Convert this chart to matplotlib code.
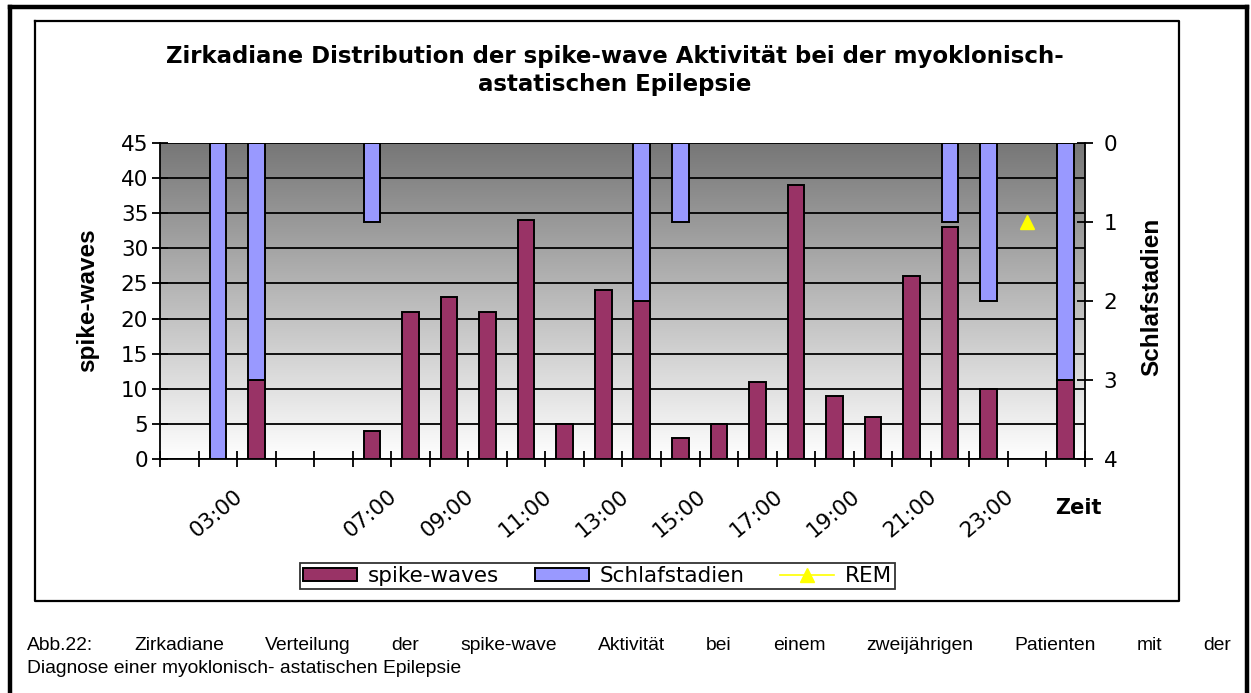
import numpy as np
import matplotlib
matplotlib.use("Agg")
import matplotlib.pyplot as plt
from matplotlib.colors import LinearSegmentedColormap
from matplotlib.lines import Line2D
from matplotlib.patches import Patch
import matplotlib.transforms as mtransforms

plt.rcParams['font.family'] = ['DejaVu Sans']

# ---------------- data ----------------
hours = ["01:00", "02:00", "03:00", "04:00", "05:00", "06:00", "07:00", "08:00",
         "09:00", "10:00", "11:00", "12:00", "13:00", "14:00", "15:00", "16:00",
         "17:00", "18:00", "19:00", "20:00", "21:00", "22:00", "23:00", "00:00"]
tick_labels = ["", "", "03:00", "", "", "", "07:00", "", "09:00", "", "11:00", "",
               "13:00", "", "15:00", "", "17:00", "", "19:00", "", "21:00", "",
               "23:00", ""]
spike_waves = [np.nan, np.nan, 11.3, np.nan, np.nan, 4, 21, 23, 21, 34, 5, 24,
               22.5, 3, 5, 11, 39, 9, 6, 26, 33, 10, np.nan, 11.3]
schlafstadien = [np.nan, 4, 3, np.nan, np.nan, 1, np.nan, np.nan, np.nan, np.nan,
                 np.nan, np.nan, 2, 1, np.nan, np.nan, np.nan, np.nan, np.nan,
                 np.nan, 1, 2, np.nan, 3]
rem = [np.nan] * 22 + [1, np.nan]

title = "Zirkadiane Distribution der spike-wave Aktivität bei der myoklonisch-\nastatischen Epilepsie"
caption1 = "Abb.22:  Zirkadiane Verteilung der spike-wave Aktivität bei einem zweijährigen Patienten mit der"
caption2 = "Diagnose einer myoklonisch- astatischen Epilepsie"

# ---------------- figure ----------------
W, H = 1251, 693
fig = plt.figure(figsize=(W / 100, H / 100), dpi=100)

def fx(px):
    return px / W

def fy(py):
    return 1 - py / H

TICK_FS = 15.5
L, R, T, B = 160, 1085, 143, 459
ax = fig.add_axes([fx(L), fy(B), fx(R) - fx(L), fy(T) - fy(B)])

# gradient background
cmap = LinearSegmentedColormap.from_list("g", ["#ffffff", "#777777"])
grad = np.linspace(0, 1, 256).reshape(-1, 1)
ax.imshow(grad, cmap=cmap, aspect="auto", extent=(0, 1, 0, 1),
          transform=ax.transAxes, origin="lower", zorder=0)

x = np.arange(len(hours))
bw = 0.43
ax.bar(x, spike_waves, width=bw, color="#993366", edgecolor="black",
       linewidth=1.4, zorder=3)
ax.set_xlim(-0.5, len(hours) - 0.5)
ax.set_ylim(0, 45)
ax.set_yticks(np.arange(0, 46, 5))
ax.yaxis.grid(True, color="black", linewidth=1.3, zorder=1)
ax.set_axisbelow(True)
ax.tick_params(axis="y", direction="inout", length=11, width=1.3,
               labelsize=TICK_FS, pad=3)

# x ticks at category boundaries, labels at centers
ax.set_xticks(np.arange(-0.5, len(hours), 1.0))
ax.set_xticklabels([])
ax.tick_params(axis="x", which="major", direction="inout", length=11, width=1.3)
ax.set_xticks(x, minor=True)
ax.set_xticklabels(tick_labels, minor=True)
ax.tick_params(axis="x", which="minor", length=0, labelsize=TICK_FS, pad=0)
offset = mtransforms.ScaledTranslation(-0.16, -0.35, fig.dpi_scale_trans)
for lab in ax.get_xticklabels(minor=True):
    lab.set_rotation(40)
    lab.set_rotation_mode("anchor")
    lab.set_ha("right")
    lab.set_va("center")
    lab.set_transform(lab.get_transform() + offset)

for s in ["top", "right"]:
    ax.spines[s].set_visible(False)
ax.spines["left"].set_linewidth(1.3)
ax.spines["bottom"].set_linewidth(1.3)

ax2 = ax.twinx()
ax2.bar(x, schlafstadien, width=bw, color="#9999ff", edgecolor="black",
        linewidth=1.4, zorder=3)
ax2.plot(x, rem, color="#ffff00", marker="^", markersize=10, linewidth=1.2,
         zorder=4)
ax2.set_ylim(4, 0)
ax2.set_yticks([0, 1, 2, 3, 4])
ax2.tick_params(axis="y", direction="inout", length=11, width=1.3,
                labelsize=TICK_FS, pad=8)
for s in ["top", "left", "bottom"]:
    ax2.spines[s].set_visible(False)
ax2.spines["right"].set_linewidth(1.3)
ax2.set_xlim(-0.5, len(hours) - 0.5)

# axis titles
fig.text(fx(88), fy(300), "spike-waves", rotation=90, ha="center", va="center",
         fontsize=17.5, fontweight="bold", family="Liberation Sans")
fig.text(fx(1152), fy(297), "Schlafstadien", rotation=90, ha="center",
         va="center", fontsize=17.5, fontweight="bold", family="Liberation Sans")
fig.text(fx(1078), fy(508), "Zeit", ha="center", va="center", fontsize=15,
         fontweight="bold")
fig.text(fx(615), fy(70.5), title, ha="center", va="center", fontsize=16.5,
         fontweight="bold", linespacing=1.3)

# legend
handles = [Patch(facecolor="#993366", edgecolor="black", linewidth=1.4),
           Patch(facecolor="#9999ff", edgecolor="black", linewidth=1.4),
           Line2D([0], [0], color="#ffff00", marker="^", markersize=10,
                  linewidth=1.2)]
leg = fig.legend(handles, ["spike-waves", "Schlafstadien", "REM"], ncol=3,
                 loc="center", bbox_to_anchor=(fx(597.5), fy(576)),
                 fontsize=TICK_FS, frameon=True, fancybox=False, shadow=False,
                 borderpad=0.15, handlelength=2.5, handleheight=0.55,
                 handletextpad=0.5, columnspacing=1.65, borderaxespad=0)
leg.get_frame().set_edgecolor("black")
leg.get_frame().set_linewidth(1.3)

# frames
outer_kw = dict(color="black", linewidth=3.2, transform=fig.transFigure)
fig.add_artist(Line2D([fx(9.5), fx(9.5)], [fy(7), 0], **outer_kw))
fig.add_artist(Line2D([fx(9.5), fx(1246.5)], [fy(7), fy(7)], **outer_kw))
fig.add_artist(Line2D([fx(1246.5), fx(1246.5)], [fy(7), 0], **outer_kw))
inner_kw = dict(color="black", linewidth=1.6, transform=fig.transFigure)
fig.add_artist(Line2D([fx(35), fx(1179), fx(1179), fx(35), fx(35)],
                      [fy(21), fy(21), fy(601), fy(601), fy(21)], **inner_kw))

# caption (justified first line)
cap_size = 13.9
fig.canvas.draw()
renderer = fig.canvas.get_renderer()
words = caption1.split()
texts = [fig.text(0, fy(650), w, fontsize=cap_size, ha="left",
                  va="baseline", family="Liberation Sans") for w in words]
widths = [t.get_window_extent(renderer).width for t in texts]
x0, x1 = 27, 1231
gap = (x1 - x0 - sum(widths)) / (len(words) - 1)
cur = x0
for t, w in zip(texts, widths):
    t.set_x(fx(cur))
    cur += w + gap
fig.text(fx(27), fy(673), caption2, fontsize=cap_size, ha="left",
         va="baseline", family="Liberation Sans")

fig.savefig("out.png", dpi=100)
